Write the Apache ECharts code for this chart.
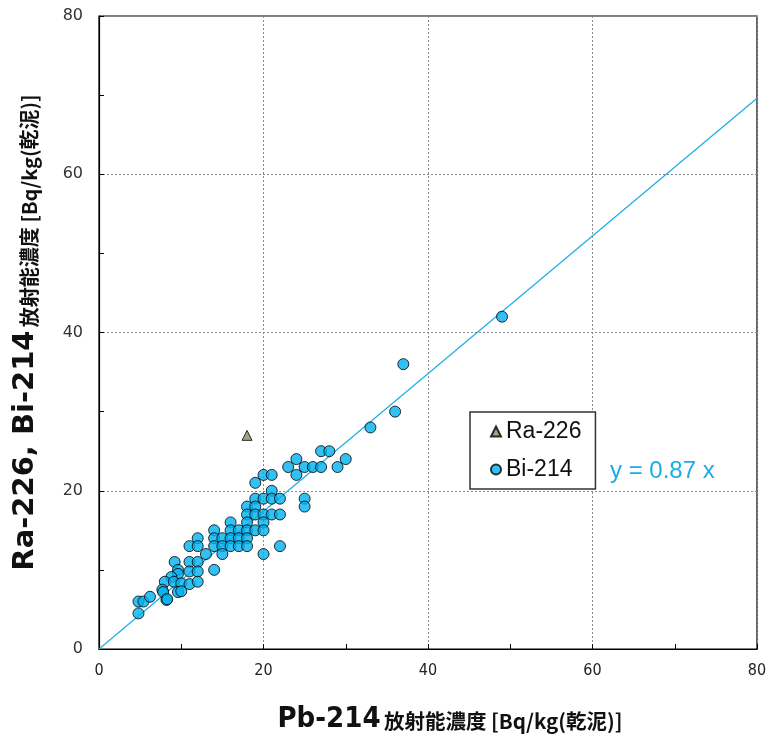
<!DOCTYPE html>
<html>
<head>
<meta charset="utf-8">
<script src="https://cdn.jsdelivr.net/npm/echarts@6/dist/echarts.min.js"></script>
<style>
  html, body { margin: 0; padding: 0; background: #fff; }
  #chart { width: 771px; height: 736px; }
</style>
</head>
<body>
<div id="chart"></div>
<script>
// Pb-214 vs Bi-214 activity concentrations [Bq/kg dry mud]
const bi214 = [
  [49, 42], [37, 36], [36, 30], [33, 28],
  [27, 25], [28, 25], [24, 24], [30, 24],
  [23, 23], [25, 23], [26, 23], [27, 23], [29, 23],
  [24, 22], [20, 22], [21, 22], [19, 21], [21, 20],
  [19, 19], [20, 19], [21, 19], [22, 19], [25, 19],
  [25, 18], [18, 18], [19, 18],
  [18, 17], [19, 17], [20, 17], [21, 17], [22, 17],
  [16, 16], [18, 16], [20, 16],
  [14, 15], [16, 15], [17, 15], [18, 15], [19, 15], [20, 15],
  [12, 14], [14, 14], [15, 14], [16, 14], [17, 14], [18, 14],
  [11, 13], [12, 13], [14, 13], [15, 13], [16, 13], [17, 13], [18, 13], [22, 13],
  [13, 12], [15, 12], [20, 12],
  [9.2, 11], [11, 11], [12, 11],
  [14, 10], [9.6, 10], [11, 9.8], [12, 9.8],
  [9.6, 9.5], [8.8, 9.1],
  [8, 8.5], [9.1, 8.5], [10, 8.3], [11, 8.2], [12, 8.5],
  [7.7, 7.5], [9.6, 7.2], [10, 7.3], [7.8, 7.2],
  [8.2, 6.2], [8.3, 6.3], [4.8, 6], [5.4, 6], [6.2, 6.6], [4.8, 4.5]
];
// Ra-226 vs Pb-214
const ra226 = [[18, 27]];
// Regression through origin
const slope = 0.87;
const xTicks = [0, 20, 40, 60, 80];
const yTicks = [0, 20, 40, 60, 80];
const fitLine = [[0, 0], [80, 80 * slope]];

const chart = echarts.init(document.getElementById('chart'), null, { renderer: 'canvas' });

const axisCommon = {
  min: 0, max: 80, interval: 20,
  axisLine: { show: true, onZero: false, lineStyle: { color: '#000', width: 1.2 } },
  axisTick: { show: true, inside: true, length: 5, lineStyle: { color: '#000' } },
  minorTick: { show: true, splitNumber: 2, length: 5, lineStyle: { color: '#000' } },
  splitLine: { show: true, lineStyle: { color: '#888', type: [2, 2], width: 1 } }
};

chart.setOption({
  animation: false,
  backgroundColor: '#fff',
  grid: {
    left: 99, right: 14, top: 16, bottom: 87,
    outerBoundsMode: 'none', containLabel: false,
    show: true, borderColor: '#000', borderWidth: 1.2, backgroundColor: 'transparent'
  },
  xAxis: Object.assign({}, axisCommon, {
    type: 'value',
    axisLabel: {
      margin: 14, fontSize: 16, color: '#222',
      fontFamily: '"Liberation Sans Narrow", "DejaVu Sans Condensed", "Noto Sans", sans-serif',
      formatter: v => xTicks.includes(v) ? String(v) : ''
    },
    name: '{a|Pb-214} {b|放射能濃度 [Bq/kg(乾泥)]}',
    nameLocation: 'middle',
    nameGap: 56,
    nameTextStyle: {
      padding: [0, 0, 0, 44],
      rich: {
        a: { fontSize: 29, fontWeight: 'bold', color: '#111',
             fontFamily: '"Liberation Sans Narrow", "DejaVu Sans Condensed", sans-serif' },
        b: { fontSize: 20.5, fontWeight: 'bold', color: '#111',
             fontFamily: '"Noto Sans CJK JP", sans-serif', padding: [4, 0, 0, 0] }
      }
    }
  }),
  yAxis: Object.assign({}, axisCommon, {
    type: 'value',
    axisLabel: {
      margin: 16, fontSize: 16, color: '#333',
      fontFamily: '"DejaVu Sans", Verdana, sans-serif',
      formatter: v => yTicks.includes(v) ? String(v) : ''
    },
    name: '{a|Ra-226, Bi-214} {b|放射能濃度 [Bq/kg(乾泥)]}',
    nameLocation: 'middle',
    nameGap: 59,
    nameTextStyle: {
      rich: {
        a: { fontSize: 29, fontWeight: 'bold', color: '#111',
             fontFamily: '"DejaVu Sans", Verdana, sans-serif' },
        b: { fontSize: 20, fontWeight: 'bold', color: '#111',
             fontFamily: '"Noto Sans CJK JP", sans-serif', padding: [7, 0, 0, 0] }
      }
    }
  }),
  legend: {
    orient: 'vertical',
    left: 470, top: 412,
    padding: [8, 14, 8, 20],
    itemGap: 15,
    itemWidth: 10, itemHeight: 10,
    backgroundColor: '#fff',
    borderColor: '#333', borderWidth: 1.5,
    textStyle: { fontSize: 23, color: '#111', fontFamily: '"Liberation Sans", Arial, sans-serif' },
    data: ['Ra-226', 'Bi-214']
  },
  series: [
    {
      name: 'fit', type: 'line', data: fitLine,
      symbol: 'none', silent: true, z: 1,
      lineStyle: { color: '#1aaee5', width: 1.2 }
    },
    {
      name: 'Bi-214', type: 'scatter', data: bi214,
      symbol: 'circle', symbolSize: 11, z: 3,
      itemStyle: { color: '#00b0f0', borderColor: '#000', borderWidth: 1 }
    },
    {
      name: 'Ra-226', type: 'scatter', data: ra226,
      symbol: 'triangle', symbolSize: 10, z: 3,
      itemStyle: { color: '#8c8a63', borderColor: '#000', borderWidth: 1 }
    }
  ],
  graphic: [
    {
      type: 'text', left: 610, top: 459,
      style: {
        text: 'y = ' + slope + ' x',
        fill: '#1aaee5', fontSize: 24,
        fontFamily: '"Liberation Sans", Arial, sans-serif'
      }
    }
  ]
});
</script>
</body>
</html>
